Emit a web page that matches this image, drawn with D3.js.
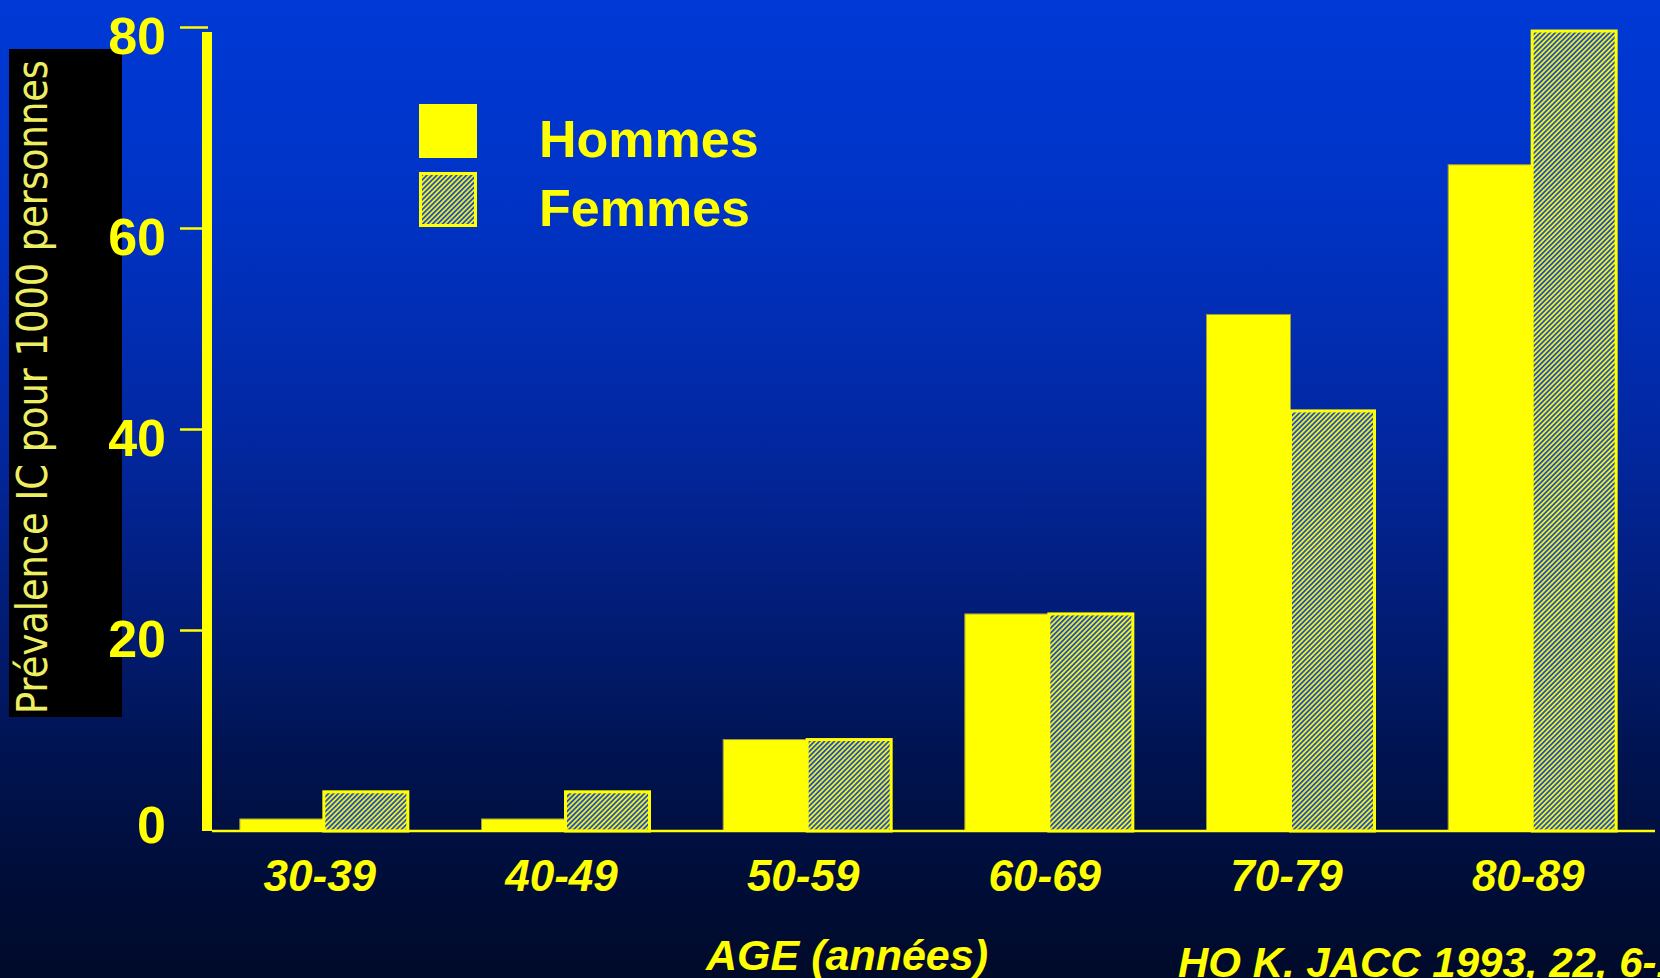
<!DOCTYPE html>
<html>
<head>
<meta charset="utf-8">
<script src="https://cdn.jsdelivr.net/npm/d3@7"></script>
<style>
  html, body { margin: 0; padding: 0; overflow: hidden; background: #000a2c; }
  svg { display: block; }
</style>
</head>
<body>
<svg id="chart" width="1660" height="978"></svg>
<script>
// Prévalence de l'insuffisance cardiaque par tranche d'âge et par sexe
const ageGroups = ["30-39", "40-49", "50-59", "60-69", "70-79", "80-89"];
const hommes = [1.2, 1.2, 9.1, 21.6, 51.4, 66.3];
const femmes = [3.9, 3.9, 9.1, 21.6, 41.8, 79.6];
const seriesNames = ["Hommes", "Femmes"];
const yTicks = [0, 20, 40, 60, 80];
const yTitle = "Prévalence IC pour 1000 personnes";
const xTitle = "AGE (années)";
const source = "HO K. JACC 1993, 22, 6-13";

const W = 1660, H = 978;
const YELLOW = "#ffff00";
const FONT = "'Liberation Sans', Arial, Helvetica, sans-serif";

const svg = d3.select("#chart");
const defs = svg.append("defs");

// background: bright blue fading to deep navy
const bg = defs.append("linearGradient").attr("id", "bg")
  .attr("x1", 0).attr("y1", 0).attr("x2", 0).attr("y2", 1);
[[0, "#0039d6"], [0.22, "#0033c4"], [0.45, "#0227a0"], [0.62, "#021d78"],
 [0.78, "#00134f"], [0.9, "#000d38"], [1, "#000a2a"]]
  .forEach(([o, c]) => bg.append("stop").attr("offset", o).attr("stop-color", c));
svg.append("rect").attr("width", W).attr("height", H).attr("fill", "url(#bg)");

// diagonal hatch for the second series
const hp = 3.5;
const hatch = defs.append("pattern").attr("id", "hatch")
  .attr("patternUnits", "userSpaceOnUse")
  .attr("width", hp).attr("height", 10)
  .attr("patternTransform", "rotate(45)");
hatch.append("rect").attr("width", hp).attr("height", 10).attr("fill", "#f4f400");
hatch.append("rect").attr("width", hp * 0.5).attr("height", 10).attr("fill", "#1f4fe0");

// scales
const x = d3.scaleBand().domain(ageGroups).range([203, 1653]).paddingInner(0).paddingOuter(0);
const y = d3.scaleLinear().domain([0, 80]).range([831, 27]);
const barW = 84;

const fills = [YELLOW, "url(#hatch)"];
const data = ageGroups.map((g, i) => ({ g, values: [hommes[i], femmes[i]] }));

// y-axis title block
svg.append("rect").attr("x", 9).attr("y", 49).attr("width", 113).attr("height", 668).attr("fill", "#000");
svg.append("text")
  .attr("transform", "translate(47,714) rotate(-90)")
  .attr("font-family", "'DejaVu Sans', 'Liberation Sans', sans-serif")
  .attr("font-size", 43)
  .attr("fill", "#eeee62")
  .attr("textLength", 654)
  .attr("lengthAdjust", "spacingAndGlyphs")
  .text(yTitle);

// bars
const groups = svg.append("g").selectAll("g").data(data).join("g")
  .attr("transform", d => `translate(${x(d.g) + x.bandwidth() / 2},0)`);

groups.selectAll("rect").data(d => d.values).join("rect")
  .attr("x", (v, i) => i === 0 ? -barW : 0)
  .attr("y", v => y(v))
  .attr("width", barW)
  .attr("height", v => y(0) - y(v))
  .attr("fill", (v, i) => fills[i])
  .attr("stroke", (v, i) => i === 0 ? "#9a9a40" : YELLOW)
  .attr("stroke-width", (v, i) => i === 0 ? 1 : 3);

// x baseline
svg.append("line")
  .attr("x1", 212).attr("x2", 1655)
  .attr("y1", y(0)).attr("y2", y(0))
  .attr("stroke", YELLOW).attr("stroke-width", 2.5);

// y axis: thick bar with short ticks
const yAxis = d3.axisLeft(y).tickValues(yTicks).tickSize(26).tickPadding(12)
  .tickFormat(d3.format("d"));
const yAxisG = svg.append("g").attr("transform", "translate(206,0)").call(yAxis);
yAxisG.select(".domain").remove();
yAxisG.selectAll(".tick line").attr("stroke", YELLOW).attr("stroke-width", 2.5)
  .attr("x1", 2);
yAxisG.selectAll(".tick").filter(d => d === 0).select("line").remove();
yAxisG.selectAll(".tick text")
  .attr("fill", YELLOW)
  .attr("font-family", FONT)
  .attr("font-weight", "bold")
  .attr("font-size", 52)
  .attr("x", -40)
  .attr("dy", d => d === 0 ? "0.22em" : "0.5em");

svg.append("rect")
  .attr("x", 202).attr("y", y(80) + 5)
  .attr("width", 10).attr("height", y(0) - y(80) - 5)
  .attr("fill", YELLOW);

// x tick labels
svg.append("g").selectAll("text").data(ageGroups).join("text")
  .attr("x", d => x(d) + x.bandwidth() / 2 - 4)
  .attr("y", 891)
  .attr("text-anchor", "middle")
  .attr("fill", YELLOW)
  .attr("font-family", FONT)
  .attr("font-weight", "bold")
  .attr("font-style", "italic")
  .attr("font-size", 44)
  .text(d => d);

// legend
const legend = svg.append("g").selectAll("g").data(seriesNames).join("g")
  .attr("transform", (d, i) => `translate(419,${104 + i * 68})`);
legend.append("rect")
  .attr("x", (d, i) => i === 0 ? 0 : 1.5)
  .attr("y", (d, i) => i === 0 ? 0 : 1.5)
  .attr("width", (d, i) => i === 0 ? 58 : 55)
  .attr("height", (d, i) => i === 0 ? 54 : 52)
  .attr("fill", (d, i) => fills[i])
  .attr("stroke", (d, i) => i === 0 ? "none" : YELLOW)
  .attr("stroke-width", 3);
legend.append("text")
  .attr("x", 120).attr("y", (d, i) => i === 0 ? 53 : 54)
  .attr("fill", YELLOW)
  .attr("font-family", FONT)
  .attr("font-weight", "bold")
  .attr("font-size", 52)
  .text(d => d);

// axis title and source
svg.append("text")
  .attr("x", 847).attr("y", 970)
  .attr("text-anchor", "middle")
  .attr("fill", YELLOW)
  .attr("font-family", FONT).attr("font-weight", "bold").attr("font-style", "italic")
  .attr("font-size", 43)
  .text(xTitle);
svg.append("text")
  .attr("x", 1178).attr("y", 977)
  .attr("fill", YELLOW)
  .attr("font-family", FONT).attr("font-weight", "bold").attr("font-style", "italic")
  .attr("font-size", 42)
  .text(source);
</script>
</body>
</html>
